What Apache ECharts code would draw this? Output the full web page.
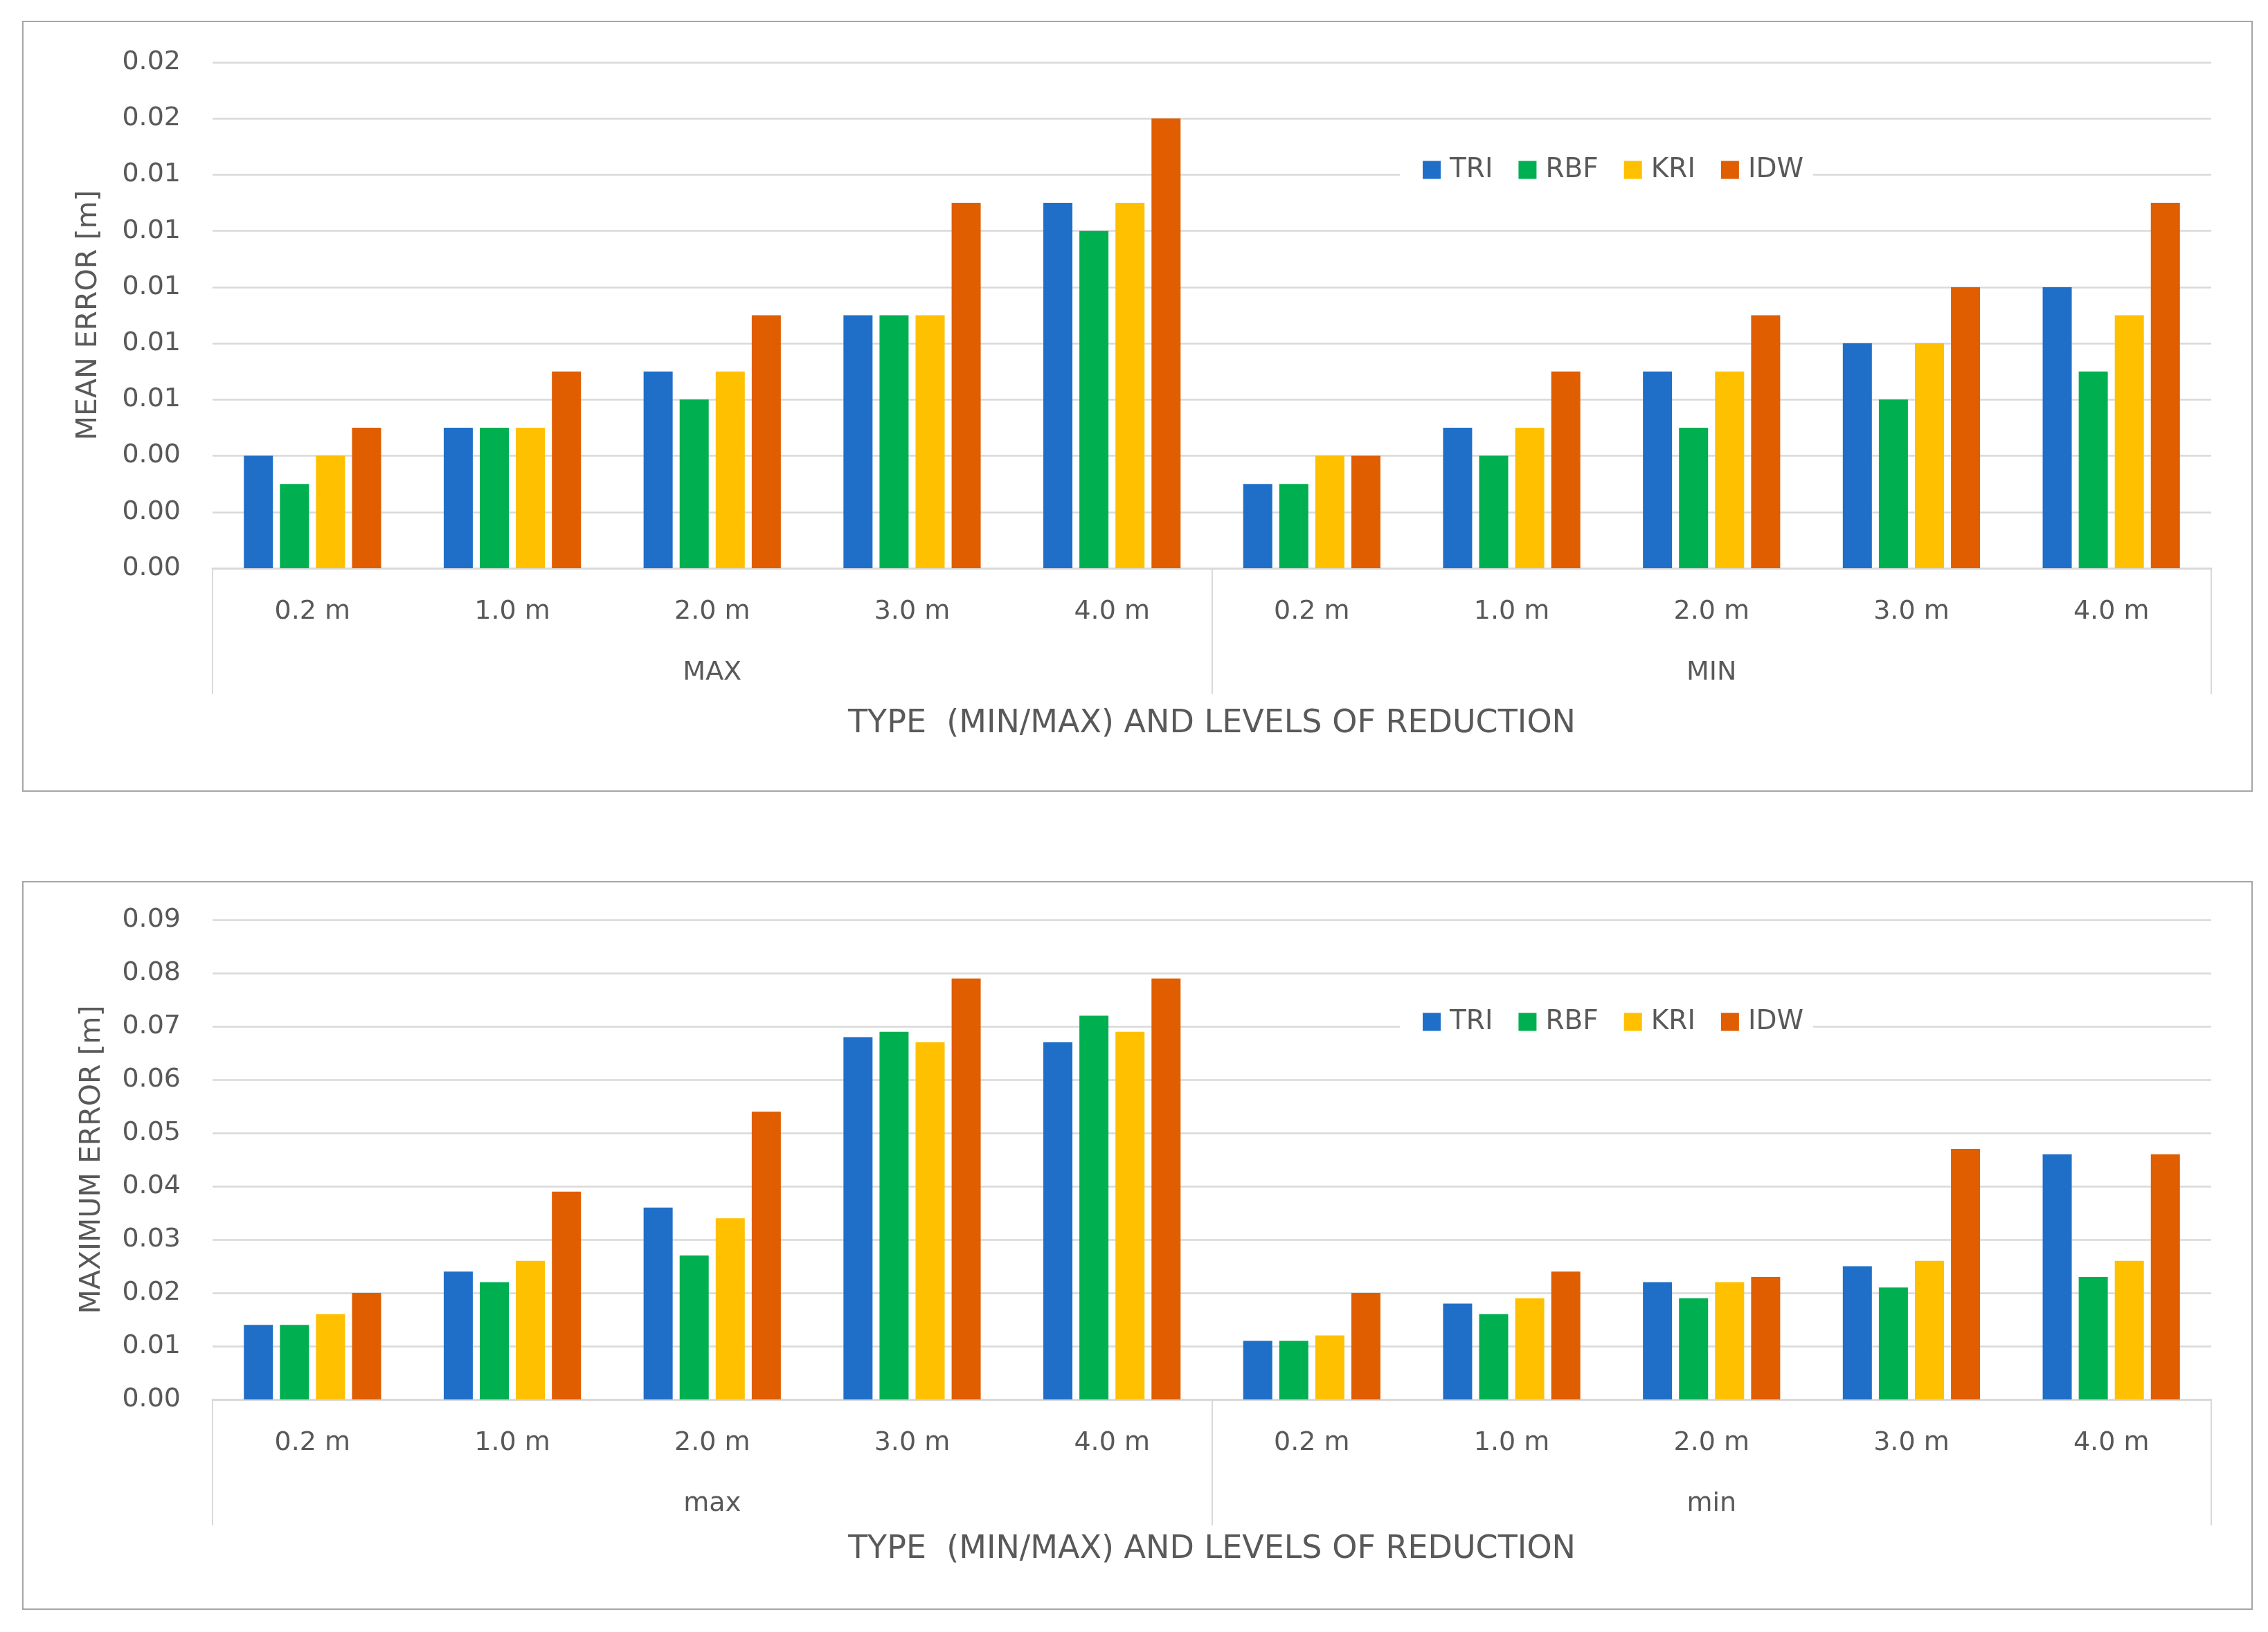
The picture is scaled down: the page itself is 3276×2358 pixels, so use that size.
<!DOCTYPE html>
<html>
<head>
<meta charset="utf-8">
<script src="https://cdn.jsdelivr.net/npm/echarts@6/dist/echarts.min.js"></script>
<style>
html,body{margin:0;padding:0;background:#fff;}
#chart{width:3276px;height:2358px;}
</style>
</head>
<body>
<div id="chart"></div>
<script>
// ---- data ----
var groupsTop = ['MAX', 'MIN'];
var groupsBottom = ['max', 'min'];
var levels = ['0.2 m', '1.0 m', '2.0 m', '3.0 m', '4.0 m'];
var seriesNames = ['TRI', 'RBF', 'KRI', 'IDW'];

// Mean error [m] (top chart)
var meanTRI = [0.004, 0.005, 0.007, 0.009, 0.013, 0.003, 0.005, 0.007, 0.008, 0.010];
var meanRBF = [0.003, 0.005, 0.006, 0.009, 0.012, 0.003, 0.004, 0.005, 0.006, 0.007];
var meanKRI = [0.004, 0.005, 0.007, 0.009, 0.013, 0.004, 0.005, 0.007, 0.008, 0.009];
var meanIDW = [0.005, 0.007, 0.009, 0.013, 0.016, 0.004, 0.007, 0.009, 0.010, 0.013];

// Maximum error [m] (bottom chart)
var maxTRI = [0.014, 0.024, 0.036, 0.068, 0.067, 0.011, 0.018, 0.022, 0.025, 0.046];
var maxRBF = [0.014, 0.022, 0.027, 0.069, 0.072, 0.011, 0.016, 0.019, 0.021, 0.023];
var maxKRI = [0.016, 0.026, 0.034, 0.067, 0.069, 0.012, 0.019, 0.022, 0.026, 0.026];
var maxIDW = [0.020, 0.039, 0.054, 0.079, 0.079, 0.020, 0.024, 0.023, 0.047, 0.046];

// tick labels as printed (rounded to 2 decimals)
var meanTickLabels = ['0.00', '0.00', '0.00', '0.01', '0.01', '0.01', '0.01', '0.01', '0.02', '0.02'];
var maxTickLabels = ['0.00', '0.01', '0.02', '0.03', '0.04', '0.05', '0.06', '0.07', '0.08', '0.09'];

// ---- build ----
var colors = ['#1F6FC9', '#00B050', '#FFC000', '#E05D00'];
var FONT = 'DejaVu Sans';
var TXT = '#595959';
var GRIDC = '#D9D9D9';

function cats(groups) {
  var out = [];
  groups.forEach(function (g) { levels.forEach(function (l) { out.push(g + '|' + l); }); });
  return out;
}

var meanData = [meanTRI, meanRBF, meanKRI, meanIDW];
var maxData = [maxTRI, maxRBF, maxKRI, maxIDW];

var chart = echarts.init(document.getElementById('chart'), null, {renderer: 'canvas'});

function levelAxis(gridIndex, groups) {
  return {
    type: 'category', gridIndex: gridIndex, data: cats(groups), position: 'bottom',
    axisLine: {show: true, lineStyle: {color: GRIDC, width: 3}},
    axisTick: {show: false},
    axisLabel: {
      interval: 0, margin: 44, color: TXT, fontFamily: FONT, fontSize: 38,
      formatter: function (v) { return v.split('|')[1]; }
    },
    splitLine: {show: false}
  };
}
function groupAxis(gridIndex, groups, nameGap) {
  return {
    type: 'category', gridIndex: gridIndex, data: groups, position: 'bottom',
    axisLine: {show: false},
    axisTick: {show: true, length: 182, interval: 0, lineStyle: {color: GRIDC, width: 2}},
    axisLabel: {interval: 0, margin: 132, color: TXT, fontFamily: FONT, fontSize: 38},
    name: 'TYPE  (MIN/MAX) AND LEVELS OF REDUCTION',
    nameLocation: 'middle', nameGap: nameGap,
    nameTextStyle: {color: TXT, fontFamily: FONT, fontSize: 46},
    splitLine: {show: false}
  };
}
function valueAxis(gridIndex, max, interval, labels, name, nameGap) {
  return {
    type: 'value', gridIndex: gridIndex, min: 0, max: max, interval: interval,
    name: name, nameLocation: 'middle', nameGap: nameGap,
    nameTextStyle: {color: TXT, fontFamily: FONT, fontSize: 41},
    axisLine: {show: false}, axisTick: {show: false},
    axisLabel: {
      color: TXT, fontFamily: FONT, fontSize: 38, margin: 46,
      formatter: function (v) { return labels[Math.round(v / interval)]; }
    },
    splitLine: {show: true, lineStyle: {color: GRIDC, width: 2.5}}
  };
}

var series = [];
seriesNames.forEach(function (n, i) {
  series.push({
    name: n, type: 'bar', xAxisIndex: 0, yAxisIndex: 0, data: meanData[i],
    barWidth: 42, barGap: '24%', itemStyle: {color: colors[i]}
  });
});
seriesNames.forEach(function (n, i) {
  series.push({
    name: n, type: 'bar', xAxisIndex: 2, yAxisIndex: 1, data: maxData[i],
    barWidth: 42, barGap: '24%', itemStyle: {color: colors[i]}
  });
});

function legend(top) {
  return {
    data: seriesNames, left: 2022, top: top, orient: 'horizontal',
    backgroundColor: '#ffffff', padding: [4, 14, 4, 33],
    itemWidth: 26, itemHeight: 26, itemGap: 37, icon: 'rect',
    textStyle: {color: TXT, fontFamily: FONT, fontSize: 39, padding: [0, 0, 0, 8]},
    selectedMode: false
  };
}

var option = {
  backgroundColor: '#ffffff',
  animation: false,
  color: colors,
  grid: [
    {left: 307, right: 82, top: 90, height: 731, containLabel: false},
    {left: 307, right: 82, top: 1329, height: 693, containLabel: false}
  ],
  xAxis: [
    levelAxis(0, groupsTop), groupAxis(0, groupsTop, 202),
    levelAxis(1, groupsBottom), groupAxis(1, groupsBottom, 194)
  ],
  yAxis: [
    valueAxis(0, 0.018, 0.002, meanTickLabels, 'MEAN ERROR [m]', 158),
    valueAxis(1, 0.09, 0.01, maxTickLabels, 'MAXIMUM ERROR [m]', 153)
  ],
  legend: [legend(222), legend(1453)],
  series: series,
  graphic: [
    {type: 'rect', shape: {x: 33, y: 31, width: 3220, height: 1112},
     style: {fill: 'none', stroke: '#A6A6A6', lineWidth: 2}, silent: true},
    {type: 'rect', shape: {x: 33, y: 1274, width: 3220, height: 1051},
     style: {fill: 'none', stroke: '#A6A6A6', lineWidth: 2}, silent: true}
  ]
};
chart.setOption(option);
</script>
</body>
</html>
